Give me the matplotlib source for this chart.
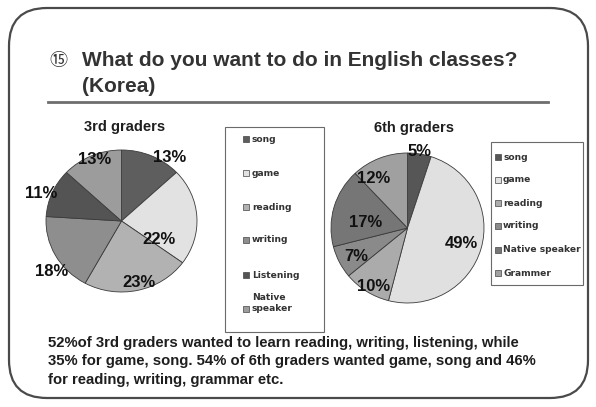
import matplotlib.pyplot as plt
import numpy as np
from matplotlib.patches import FancyBboxPatch, Rectangle

plt.rcParams["font.family"] = ["Liberation Sans", "DejaVu Sans", "Noto Sans CJK JP"]

W, H = 596, 407

TITLE_MARK = "\u246e"
TITLE = "What do you want to do in English classes?"
SUBTITLE = "(Korea)"

G3_LABELS = ["song", "game", "reading", "writing", "Listening", "Native\nspeaker"]
G3_VALUES = [13, 22, 23, 18, 11, 13]
G3_COLORS = ["#5e5e5e", "#e2e2e2", "#b2b2b2", "#8e8e8e", "#545454", "#9c9c9c"]

G6_LABELS = ["song", "game", "reading", "writing", "Native speaker", "Grammer"]
G6_VALUES = [5, 49, 10, 7, 17, 12]
G6_COLORS = ["#565656", "#e0e0e0", "#ababab", "#8a8a8a", "#767676", "#a0a0a0"]

# label placement tweaks (angle offset from wedge middle, radius fraction)
G3_LAB_DA = [-12, -32, 2, 9, 3, -1]
G3_LAB_R = [1.10, 0.56, 0.90, 1.17, 1.13, 0.93]
G6_LAB_DA = [0, 0, 3, 3, 8, 12]
G6_LAB_R = [1.03, 0.73, 0.90, 0.77, 0.55, 0.80]

SUMMARY = [
    "52%of 3rd graders wanted to learn reading, writing, listening, while",
    "35% for game, song. 54% of 6th graders wanted game, song and 46%",
    "for reading, writing, grammar etc.",
]

TXT = "#1e1e1e"


def px_axes(fig, x0, y0, x1, y1):
    # axes from pixel box (top-left origin)
    return fig.add_axes([x0 / W, 1 - y1 / H, (x1 - x0) / W, (y1 - y0) / H])


def draw_pie(fig, box, values, colors, da, rr):
    ax = px_axes(fig, *box)
    wedges, _ = ax.pie(values, colors=colors, startangle=90, counterclock=False,
                       wedgeprops=dict(edgecolor="#3a3a3a", linewidth=0.6))
    for w, v, d, r in zip(wedges, values, da, rr):
        ang = np.deg2rad((w.theta1 + w.theta2) / 2 + d)
        ax.text(r * np.cos(ang), r * np.sin(ang), f"{v}%", ha="center", va="center",
                fontsize=12, color="#111111", fontweight="bold")
    ax.set_aspect("auto")
    ax.set_xlim(-1, 1)
    ax.set_ylim(-1, 1)
    ax.axis("off")


def draw_legend(ov, box, labels, colors, y_items, mx, tx):
    x0, y0, x1, y1 = box
    ov.add_patch(Rectangle((x0, y0), x1 - x0, y1 - y0, facecolor="white",
                           edgecolor="#6a6a6a", linewidth=0.8))
    for lab, c, yy in zip(labels, colors, y_items):
        ov.add_patch(Rectangle((mx - 3, yy - 3), 6, 6, facecolor=c,
                               edgecolor="#444444", linewidth=0.5))
        ov.text(tx, yy - (6 if "\n" in lab else 0), lab, ha="left", va="center",
                fontsize=6.6, fontweight="bold", color="#333333", linespacing=1.3,
                family="DejaVu Sans")


fig = plt.figure(figsize=(W / 100, H / 100), dpi=100)
fig.patch.set_facecolor("white")

ov = fig.add_axes([0, 0, 1, 1], zorder=0)
ov.set_xlim(0, W)
ov.set_ylim(H, 0)
ov.axis("off")

ov.add_patch(FancyBboxPatch((9, 8), 579, 390,
                            boxstyle="round,pad=0,rounding_size=38",
                            facecolor="white", edgecolor="#4a4a4a", linewidth=1.6))

ov.text(49, 61, TITLE_MARK, fontsize=13, color="#333333", va="center", ha="left",
        family=["DejaVu Sans", "Noto Sans CJK JP"])
ov.text(82, 60, TITLE, fontsize=15, fontweight="bold", color="#333333",
        va="center", ha="left")
ov.text(82, 86, SUBTITLE, fontsize=15, fontweight="bold", color="#333333",
        va="center", ha="left")
ov.plot([48, 548], [102, 102], color="#6e6e6e", linewidth=2)

ov.text(125, 127, "3rd graders", fontsize=10.5, fontweight="bold", color=TXT,
        ha="center", va="center")
ov.text(414, 128, "6th graders", fontsize=10.5, fontweight="bold", color=TXT,
        ha="center", va="center")

draw_legend(ov, (225, 127, 324, 332), G3_LABELS, G3_COLORS,
            [139, 173, 207, 240, 275, 309], 246, 252)
draw_legend(ov, (491, 142, 583, 285), G6_LABELS, G6_COLORS,
            [157, 180, 203, 226, 250, 273], 498, 503)

for i, line in enumerate(SUMMARY):
    ov.text(48, 343 + i * 18.5, line, fontsize=10.7, fontweight="bold", color=TXT,
            ha="left", va="center")

draw_pie(fig, (46, 150, 197, 292), G3_VALUES, G3_COLORS, G3_LAB_DA, G3_LAB_R)
draw_pie(fig, (331, 153, 484, 303), G6_VALUES, G6_COLORS, G6_LAB_DA, G6_LAB_R)

fig.savefig("out.png", dpi=100, facecolor="white")
